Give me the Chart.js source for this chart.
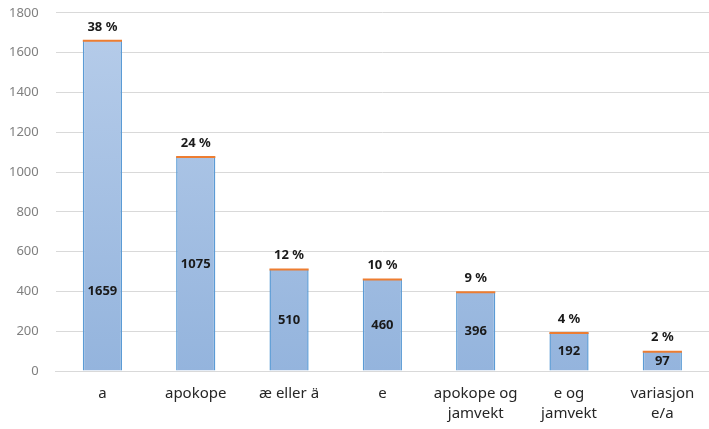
<!DOCTYPE html>
<html>
<head>
<meta charset="utf-8">
<script src="https://cdn.jsdelivr.net/npm/chart.js@4"></script>
<style>
  html, body { margin: 0; padding: 0; background: #fff; }
  #wrap { width: 709px; height: 429px; }
</style>
</head>
<body>
<div id="wrap"><canvas id="chartForm" width="709" height="429"></canvas></div>
<script>
// data
const kategorier = [["a"], ["apokope"], ["æ eller ä"], ["e"], ["apokope og", "jamvekt"], ["e og", "jamvekt"], ["variasjon", "e/a"]];
const antall = [1659, 1075, 510, 460, 396, 192, 97];
const prosent = ["38 %", "24 %", "12 %", "10 %", "9 %", "4 %", "2 %"];

// hvor i søylen tallet står (andel av høyden, fra bunnen)
const tallPlass = [0.24, 0.5, 0.5, 0.5, 0.5, 0.5, 0.5];

// ========== ETIKETTER + ORANSJE TOPP ==========
const etiketter = {
    id: "etiketter",
    afterDatasetsDraw(chart) {
        const ctx = chart.ctx;
        const meta = chart.getDatasetMeta(0);
        ctx.save();
        meta.data.forEach((bar, i) => {
            const w = bar.width;
            // oransje strek øverst
            ctx.strokeStyle = "#ed7d31";
            ctx.lineWidth = 2;
            ctx.beginPath();
            ctx.moveTo(bar.x - w / 2, bar.y);
            ctx.lineTo(bar.x + w / 2, bar.y);
            ctx.stroke();

            ctx.fillStyle = "#1a1a1a";
            ctx.font = "bold 13px 'Noto Sans', sans-serif";
            ctx.textAlign = "center";
            ctx.textBaseline = "middle";
            // prosent over søylen
            ctx.fillText(prosent[i], bar.x, bar.y - 14);
            // antall inne i søylen
            const y = bar.base - (bar.base - bar.y) * tallPlass[i];
            ctx.fillText(String(antall[i]), bar.x, y);
        });
        ctx.restore();
    }
};

new Chart(document.getElementById("chartForm"), {
    type: "bar",
    data: {
        labels: kategorier,
        datasets: [{
            label: "Antall",
            data: antall,
            backgroundColor: (c) => {
                const area = c.chart.chartArea;
                if (!area) return "#a9c2e4";
                const g = c.chart.ctx.createLinearGradient(0, area.top, 0, area.bottom);
                g.addColorStop(0, "#b7cdea");
                g.addColorStop(1, "#94b4dd");
                return g;
            },
            borderColor: "#5b9bd5",
            borderWidth: { left: 1.5, right: 1.5, top: 0, bottom: 0 },
            borderSkipped: false,
            barPercentage: 0.42,
            categoryPercentage: 1.0
        }]
    },
    options: {
        responsive: false,
        animation: false,
        layout: { padding: { left: 4, right: 0, top: 0, bottom: -8 } },
        plugins: {
            legend: { display: false },
            tooltip: { enabled: false }
        },
        scales: {
            x: {
                grid: { display: false, drawTicks: false },
                border: { color: "#d9d9d9" },
                ticks: {
                    color: "#262626",
                    font: { family: "'Noto Sans', sans-serif", size: 15, lineHeight: 1.33 },
                    maxRotation: 0,
                    padding: 13
                }
            },
            y: {
                min: 0,
                max: 1800,
                ticks: {
                    stepSize: 200,
                    color: "#7f7f7f",
                    font: { family: "'Noto Sans', sans-serif", size: 13 },
                    padding: 5,
                    callback: (v) => String(v)
                },
                grid: { color: "#d9d9d9", drawTicks: true, tickLength: 12, tickColor: "rgba(0,0,0,0)" },
                border: { display: false }
            }
        }
    },
    plugins: [etiketter]
});
</script>
</body>
</html>
